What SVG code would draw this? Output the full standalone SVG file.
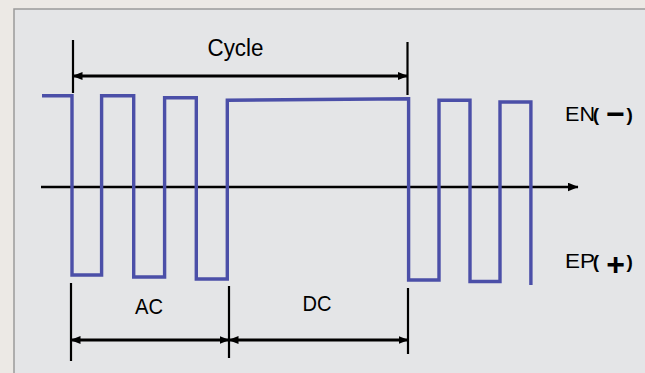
<svg xmlns="http://www.w3.org/2000/svg" width="645" height="373" viewBox="0 0 645 373">
<defs>
<style>
.t{font-family:"Liberation Sans",Arial,sans-serif;fill:#000;}
.b{font-weight:bold;}
.dim{stroke:#000;stroke-width:2.2;fill:none;}
.arr{stroke:#000;stroke-width:3;fill:none;marker-start:url(#ah);marker-end:url(#ah);}
.wave{stroke:#4b4fa8;stroke-width:3.4;fill:none;stroke-linejoin:miter;stroke-linecap:butt;}
</style>
<marker id="ah" viewBox="0 0 10 8" refX="9.5" refY="4" markerWidth="10" markerHeight="8" markerUnits="userSpaceOnUse" orient="auto-start-reverse">
<path d="M0,0 L10,4 L0,8 Z" fill="#000"/>
</marker>
<marker id="axh" viewBox="0 0 11 9" refX="10.5" refY="4.5" markerWidth="11" markerHeight="9" markerUnits="userSpaceOnUse" orient="auto">
<path d="M0,0 L11,4.5 L0,9 Z" fill="#000"/>
</marker>
</defs>
<rect x="0" y="0" width="645" height="373" fill="#ece9e5"/>
<rect x="14" y="9" width="640" height="380" fill="#e4e5e7" stroke="#9a9a9a" stroke-width="1.5"/>
<g id="connectors">
<line id="axis" x1="41" y1="187" x2="578" y2="187" stroke="#000" stroke-width="2.5" marker-end="url(#axh)"/>
<line class="dim" x1="73" y1="40" x2="73" y2="93"/>
<line class="dim" x1="407.5" y1="42" x2="407.5" y2="95"/>
<line class="arr" x1="73" y1="76" x2="407.5" y2="76"/>
<line class="dim" x1="71" y1="283" x2="71" y2="361"/>
<line class="dim" x1="229" y1="286" x2="229" y2="358"/>
<line class="dim" x1="408" y1="288" x2="408" y2="354"/>
<line class="arr" x1="71" y1="340" x2="229" y2="340"/>
<line class="arr" x1="229" y1="340" x2="408" y2="340"/>
</g>
<g id="waveform">
<path class="wave" d="M42,95.7 H72 V275 H101.6 V95.7 H133.7 V277 H164.6 V97.7 H196.3 V279 H227.3 V100.2 L408.6,98.7 V280 H439 V100.2 H470 V281.5 H500 V102 H530.9 V285"/>
</g>
<g id="label-cycle"><text class="t" x="207.5" y="55.5" font-size="23" textLength="56" lengthAdjust="spacingAndGlyphs">Cycle</text></g>
<g id="label-ac"><text class="t" x="135" y="314" font-size="21.5" textLength="28" lengthAdjust="spacingAndGlyphs">AC</text></g>
<g id="label-dc"><text class="t" x="302.5" y="311" font-size="21.5" textLength="29" lengthAdjust="spacingAndGlyphs">DC</text></g>
<g id="label-en">
<text class="t" x="565" y="120.7" font-size="19.5" textLength="30" lengthAdjust="spacingAndGlyphs">EN</text>
<text class="t b" y="120.7" font-size="19"><tspan x="592.8">(</tspan><tspan x="606.3" y="124.8" font-size="32">−</tspan><tspan x="626.5" y="120.7">)</tspan></text>
</g>
<g id="label-ep">
<text class="t" x="565" y="267.5" font-size="19.5" textLength="30" lengthAdjust="spacingAndGlyphs">EP</text>
<text class="t b" y="267.5" font-size="19"><tspan x="592.8">(</tspan><tspan x="606.3" y="275" font-size="32">+</tspan><tspan x="626.5" y="267.5">)</tspan></text>
</g>
</svg>
